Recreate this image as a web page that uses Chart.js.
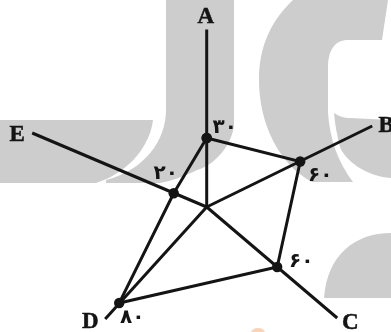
<!DOCTYPE html>
<html>
<head>
<meta charset="utf-8">
<style>
html, body { margin: 0; padding: 0; background: #fff; }
#wrap { position: relative; width: 391px; height: 332px; overflow: hidden; }
#wrap svg, #wrap canvas { position: absolute; left: 0; top: 0; }
</style>
<script src="https://cdn.jsdelivr.net/npm/chart.js@4/dist/chart.umd.min.js"></script>
</head>
<body>
<div id="wrap">
<!-- watermark behind the chart -->
<svg width="391" height="332" viewBox="0 0 391 332">
  <g fill="#cdcdcd">
    <path d="M0,120 L153,120 C150,145 130,172 96,183 L0,183 Z"/>
    <path d="M166,0 L234,0 L234,125 C232,145 215,165 197,170 C185,176 172,181 160,183 L106,183 L106,180 C145,170 166,140 166,110 Z"/>
    <path d="M293,0 L388,0 L382,40 L348,40 C335,40 328,50 328,68 L328,92 C328,102 328,108 328,113 C330,140 338,162 353,182 L312,182 C280,165 259,125 259,80 C259,45 272,20 293,0 Z"/>
    <path d="M334,113 C340,117 345,118 350,118 L391,120 L391,178 C365,176 345,160 340,147 C337,135 335,125 334,113 Z"/>
    <path d="M391,233 C355,233 327,255 324,298 L391,298 Z"/>
  </g>
  <ellipse cx="258" cy="333" rx="7" ry="5" fill="#fbd3b6"/>
</svg>
<canvas id="chart" width="391" height="332"></canvas>
</div>
<script>
var categories = ['A', 'B', 'C', 'D', 'E'];
var valueLabels = ['۳۰', '۶۰', '۶۰', '۸۰', '۲۰'];

// hub of the star is 0,0
var hubX = [0];
var hubY = [0];
var axisEndX = [0, 165.5, 130.5, -101.5, -174.5];
var axisEndY = [177.5, 81, -111, -112, 74];
var pointX = [0, 93.5, 70.5, -87.5, -33];
var pointY = [69, 45.5, -60, -96, 13.7];

// where the texts sit relative to the axis end / the point
var categoryOffset = [[-1, -12], [14, 0], [13, 5], [-15, 3], [-15, 2]];
var valueOffset = [[18, -10], [20, 14], [24, -5], [13, 15], [-8, -20]];

var ink = '#141414';

function xy(xs, ys, i) {
    return {x: xs[i], y: ys[i]};
}

function buildDatasets() {
    var sets = [];
    for (var i = 0; i < categories.length; i++) {
        sets.push({
            label: categories[i],
            data: [xy(hubX, hubY, 0), xy(axisEndX, axisEndY, i)],
            showLine: true,
            borderColor: ink,
            borderWidth: 3,
            pointRadius: 0
        });
    }
    var poly = [];
    for (var j = 0; j < pointX.length; j++) {
        poly.push(xy(pointX, pointY, j));
    }
    poly.push(xy(pointX, pointY, 0));
    sets.push({
        label: 'values',
        data: poly,
        showLine: true,
        borderColor: ink,
        borderWidth: 3,
        pointRadius: 5.2,
        pointBackgroundColor: ink,
        pointBorderWidth: 0
    });
    return sets;
}

var textPlugin = {
    id: 'starText',
    afterDatasetsDraw: function(chart) {
        var ctx = chart.ctx;
        var sx = chart.scales.x;
        var sy = chart.scales.y;
        ctx.save();
        ctx.fillStyle = ink;
        ctx.strokeStyle = ink;
        ctx.lineWidth = 0.5;
        ctx.textAlign = 'center';
        ctx.textBaseline = 'middle';
        for (var i = 0; i < categories.length; i++) {
            var cx = sx.getPixelForValue(axisEndX[i]) + categoryOffset[i][0];
            var cy = sy.getPixelForValue(axisEndY[i]) + categoryOffset[i][1];
            ctx.font = 'bold 23px "Liberation Serif"';
            ctx.fillText(categories[i], cx, cy);
            ctx.strokeText(categories[i], cx, cy);
            ctx.font = 'bold 20px "DejaVu Sans"';
            ctx.fillText(valueLabels[i],
                sx.getPixelForValue(pointX[i]) + valueOffset[i][0],
                sy.getPixelForValue(pointY[i]) + valueOffset[i][1]);
        }
        ctx.restore();
    }
};

new Chart(document.getElementById('chart').getContext('2d'), {
    type: 'scatter',
    data: {datasets: buildDatasets()},
    options: {
        responsive: false,
        animation: false,
        layout: {padding: 0, autoPadding: false},
        plugins: {legend: {display: false}, tooltip: {enabled: false}},
        scales: {
            x: {type: 'linear', display: false, min: -206.7, max: 184.3},
            y: {type: 'linear', display: false, min: -125, max: 207}
        }
    },
    plugins: [textPlugin]
});
</script>
</body>
</html>
